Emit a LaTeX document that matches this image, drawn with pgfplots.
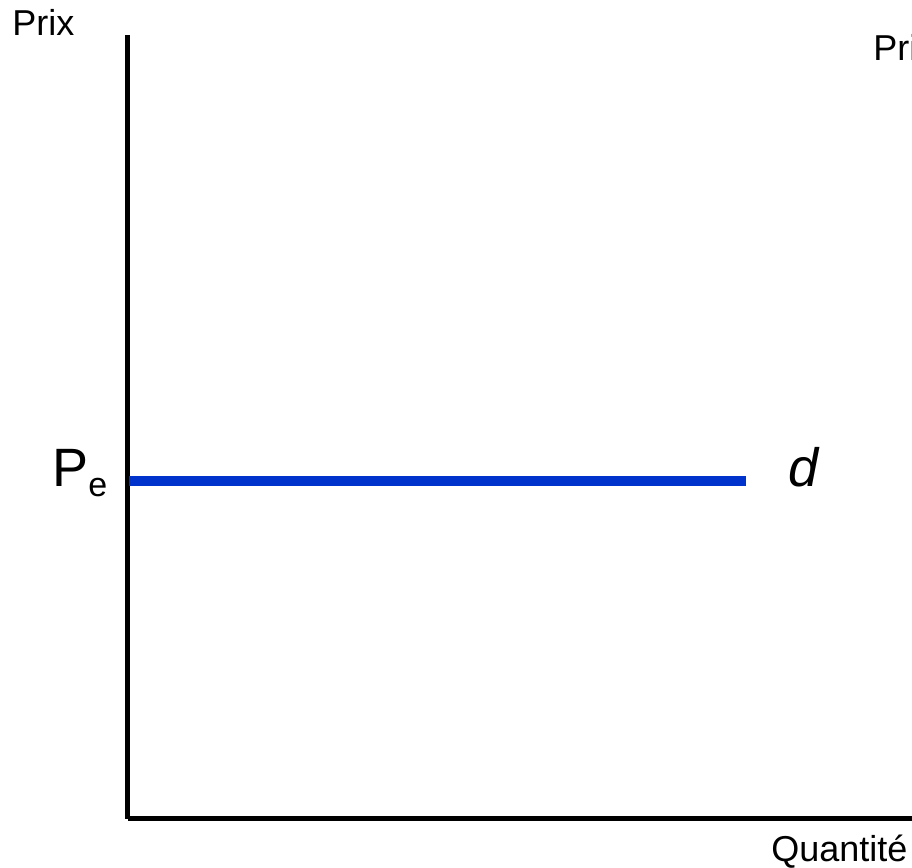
\documentclass[border=0pt]{standalone}
\usepackage{fontspec}
\setmainfont{Liberation Sans}
\usepackage{pgfplots}
\pgfplotsset{compat=1.18}
\definecolor{dblue}{RGB}{0,51,204}
\begin{document}
\begin{tikzpicture}
\useasboundingbox (0,0) rectangle (456pt,434pt);
\clip (0,0) rectangle (456pt,434pt);
\begin{axis}[
  at={(64pt,24.5pt)}, anchor=origin,
  scale only axis, width=392pt, height=392pt,
  xmin=0, xmax=784, ymin=0, ymax=784,
  axis x line=bottom, axis y line=left,
  axis line style={-, line width=2.5pt, black},
  xtick=\empty, ytick=\empty,
  clip=false,
]
\addplot[dblue, line width=5pt] coordinates {(1,338) (618,338)};
\node[anchor=base west, inner sep=0pt, font=\fontsize{18}{21}\selectfont] at (axis cs:-116,783) {Prix};
\node[anchor=base west, inner sep=0pt, font=\fontsize{18}{21}\selectfont] at (axis cs:745,758) {Prix};
\node[anchor=base west, inner sep=0pt, font=\fontsize{18}{21}\selectfont] at (axis cs:643,-43) {Quantité};
\node[anchor=base west, inner sep=0pt, font=\fontsize{27}{30}\selectfont] at (axis cs:-76,332) {P\raisebox{-5pt}{\fontsize{17}{19}\selectfont e}};
\node[anchor=base west, inner sep=0pt, font=\fontsize{27}{30}\selectfont\itshape] at (axis cs:660,332) {d};
\end{axis}
\end{tikzpicture}
\end{document}
